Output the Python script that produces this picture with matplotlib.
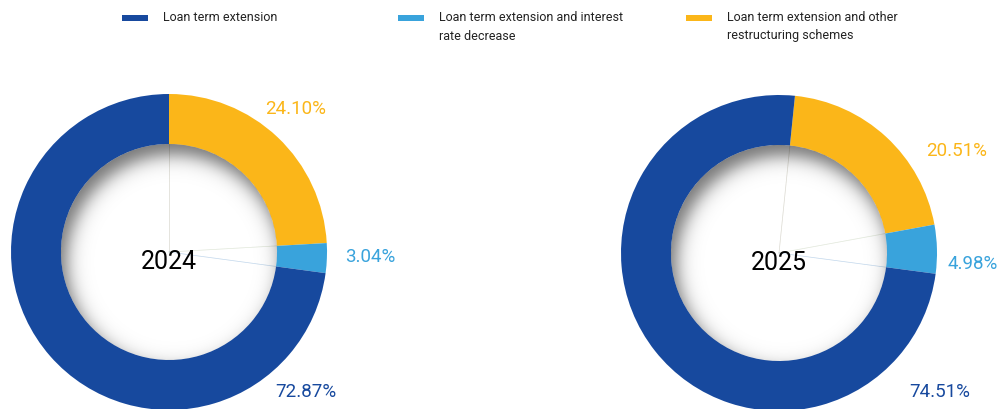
import numpy as np
import matplotlib.pyplot as plt
from matplotlib.patches import Circle, Rectangle

plt.rcParams['font.family'] = ['Roboto', 'DejaVu Sans']

# data
years = ['2024', '2025']
values_2024 = [24.10, 3.04, 72.87]
values_2025 = [20.51, 4.98, 74.51]
colors = ['#FBB619', '#39A3DC', '#17499E']
legend_labels = ['Loan term extension',
                 'Loan term extension and interest\nrate decrease',
                 'Loan term extension and other\nrestructuring schemes']
legend_colors = ['#17499E', '#39A3DC', '#FBB619']

W, H = 1008, 409
fig = plt.figure(figsize=(W / 100, H / 100), dpi=100)
ax = fig.add_axes([0, 0, 1, 1])

R_OUT, R_IN = 158, 108
donuts = [
    dict(vals=values_2024, center=(169, 157), start=90,
         label_pos=[(296, 109), (370, 257), (306, 392)]),
    dict(vals=values_2025, center=(779, 156), start=84.2,
         label_pos=[(957, 151), (973, 264), (940, 392)]),
]

yy, xx = np.mgrid[0:1:400j, 0:1:400j]
for year, d in zip(years, donuts):
    cx, cy = d['center']
    ax.pie(d['vals'], colors=colors, center=(cx, cy), radius=R_OUT,
           startangle=d['start'], counterclock=False,
           wedgeprops=dict(width=R_OUT - R_IN, linewidth=0),
           frame=True)
    # faint wedge edges inside the hole
    ang = d['start']
    for v, c in zip(d['vals'], colors):
        a2 = ang - v / sum(d['vals']) * 360
        for a in (np.deg2rad(ang), np.deg2rad(a2)):
            ax.plot([cx, cx + R_IN * np.cos(a)], [cy, cy + R_IN * np.sin(a)],
                    color=c, lw=0.5, alpha=0.15, zorder=3)
        ang = a2

    # inner shadow of the hole
    x0, x1 = cx - R_IN, cx + R_IN
    y0, y1 = cy - R_IN, cy + R_IN
    px = x0 + xx * (x1 - x0)
    py = y1 - yy * (y1 - y0)
    dist = np.hypot(px - (cx + 5), py - (cy - 10))
    alpha = 0.55 / (1 + np.exp(-(dist - R_IN + 1) / 5.5))
    img = np.zeros((400, 400, 4))
    img[..., 3] = alpha
    im = ax.imshow(img, extent=(x0, x1, y0, y1), zorder=4, interpolation='bilinear')
    im.set_clip_path(Circle((cx, cy), R_IN, transform=ax.transData))

    ax.text(cx, cy - 10, year, fontsize=18, ha='center', va='center', color='black', zorder=5)
    for v, c, (lx, ly) in zip(d['vals'], colors, d['label_pos']):
        ax.text(lx, H - ly, f'{v:.2f}%', fontsize=13.5, ha='center', va='center', color=c)

ax.set_xlim(0, W)
ax.set_ylim(0, H)
ax.set_aspect('equal')
ax.axis('off')

# legend
leg_x = [122, 398, 686]
for lx, lab, c in zip(leg_x, legend_labels, legend_colors):
    ax.add_patch(Rectangle((lx, H - 21), 26, 6, color=c, lw=0))
    ax.text(lx + 41, H - 11, lab, fontsize=9, ha='left', va='top',
            color='#222222', linespacing=1.55)

fig.savefig('out.png', dpi=100)
